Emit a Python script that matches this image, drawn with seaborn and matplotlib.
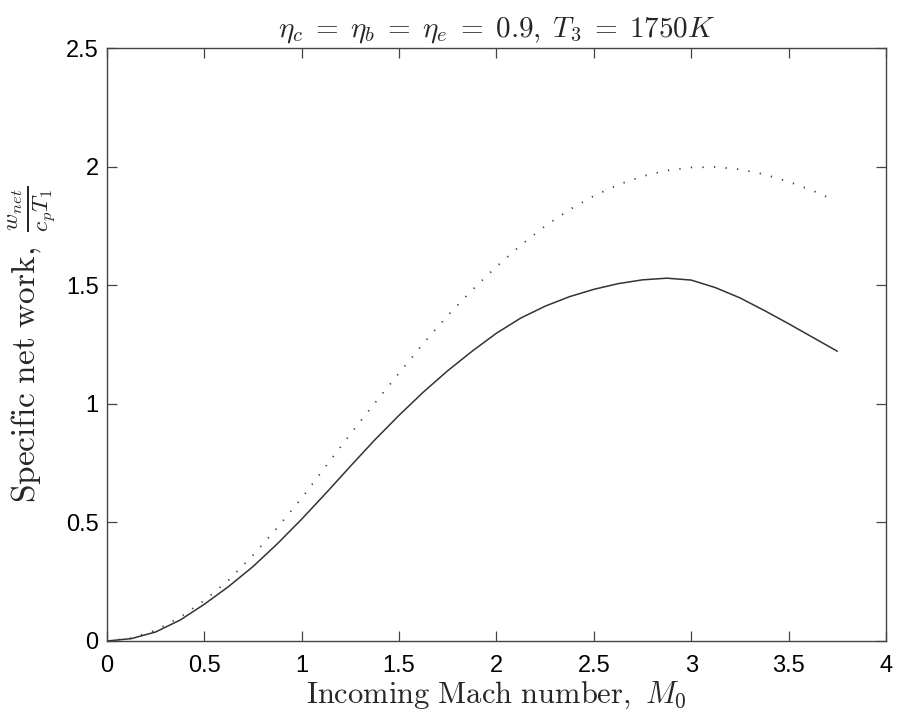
import matplotlib
matplotlib.use("Agg")
import matplotlib.pyplot as plt
import seaborn as sns
import pandas as pd

# Data (incoming Mach number vs specific net work)
mach_solid = [0, 0.125, 0.25, 0.375, 0.5, 0.625, 0.75, 0.875, 1.0, 1.125, 1.25, 1.375,
              1.5, 1.625, 1.75, 1.875, 2.0, 2.125, 2.25, 2.375, 2.5, 2.625, 2.75, 2.875,
              3.0, 3.125, 3.25, 3.375, 3.5, 3.625, 3.75]
work_solid = [0, 0.010, 0.038, 0.088, 0.155, 0.230, 0.314, 0.410, 0.514, 0.624, 0.737, 0.848,
              0.952, 1.050, 1.140, 1.222, 1.298, 1.362, 1.412, 1.452, 1.483, 1.507, 1.523, 1.530,
              1.522, 1.490, 1.447, 1.394, 1.338, 1.280, 1.222]

mach_dotted = [0, 0.125, 0.25, 0.375, 0.5, 0.625, 0.75, 0.875, 1.0, 1.125, 1.25, 1.375,
               1.5, 1.625, 1.75, 1.875, 2.0, 2.125, 2.25, 2.375, 2.5, 2.625, 2.75, 2.875,
               3.0, 3.125, 3.25, 3.375, 3.5, 3.625, 3.72]
work_dotted = [0, 0.012, 0.045, 0.100, 0.171, 0.257, 0.362, 0.478, 0.603, 0.738, 0.873, 1.003,
               1.130, 1.255, 1.373, 1.480, 1.579, 1.669, 1.750, 1.819, 1.877, 1.924, 1.960, 1.984,
               1.997, 1.999, 1.989, 1.968, 1.937, 1.899, 1.864]

x_ticks = [0, 0.5, 1, 1.5, 2, 2.5, 3, 3.5, 4]
y_ticks = [0, 0.5, 1, 1.5, 2, 2.5]
x_tick_labels = ["0", "0.5", "1", "1.5", "2", "2.5", "3", "3.5", "4"]
y_tick_labels = ["0", "0.5", "1", "1.5", "2", "2.5"]

sns.set_theme(style="white")
plt.rcParams["font.family"] = ["Liberation Sans", "DejaVu Sans"]
plt.rcParams["mathtext.fontset"] = "cm"

df_solid = pd.DataFrame({"M0": mach_solid, "w": work_solid})
df_dotted = pd.DataFrame({"M0": mach_dotted, "w": work_dotted})

fig = plt.figure(figsize=(8.99, 7.19), dpi=100)
ax = fig.add_axes([0.119, 0.1085, 0.8665, 0.8245])

sns.lineplot(data=df_solid, x="M0", y="w", ax=ax, color="#333333", linewidth=1.1)
sns.lineplot(data=df_dotted, x="M0", y="w", ax=ax, color="#3a3a3a", linewidth=1.3,
             linestyle=(0, (0.7, 5.7)))

ax.set_xlim(0, 4)
ax.set_ylim(0, 2.5)
ax.set_xticks(x_ticks)
ax.set_xticklabels(x_tick_labels)
ax.set_yticks(y_ticks)
ax.set_yticklabels(y_tick_labels)
ax.tick_params(direction="in", length=7, width=0.9, color="#444444", labelsize=17,
               labelcolor="black", top=True, right=True, bottom=True, left=True, pad=6)
ax.tick_params(axis="x", pad=10)
for s in ax.spines.values():
    s.set_color("#444444")
    s.set_linewidth(1.0)

ax.set_xlabel(r"$\mathrm{Incoming\ Mach\ number,}\ M_0$", fontsize=22, labelpad=2)
ax.set_ylabel(r"$\mathrm{Specific\ net\ work,}\ \frac{w_{net}}{c_pT_1}$", fontsize=24, labelpad=6)
ax.set_title(r"$\eta_c\;=\;\eta_b\;=\;\eta_e\;=\;0.9,\;T_3\;=\;1750K$", fontsize=21, pad=8)

fig.savefig("out.png", dpi=100)
